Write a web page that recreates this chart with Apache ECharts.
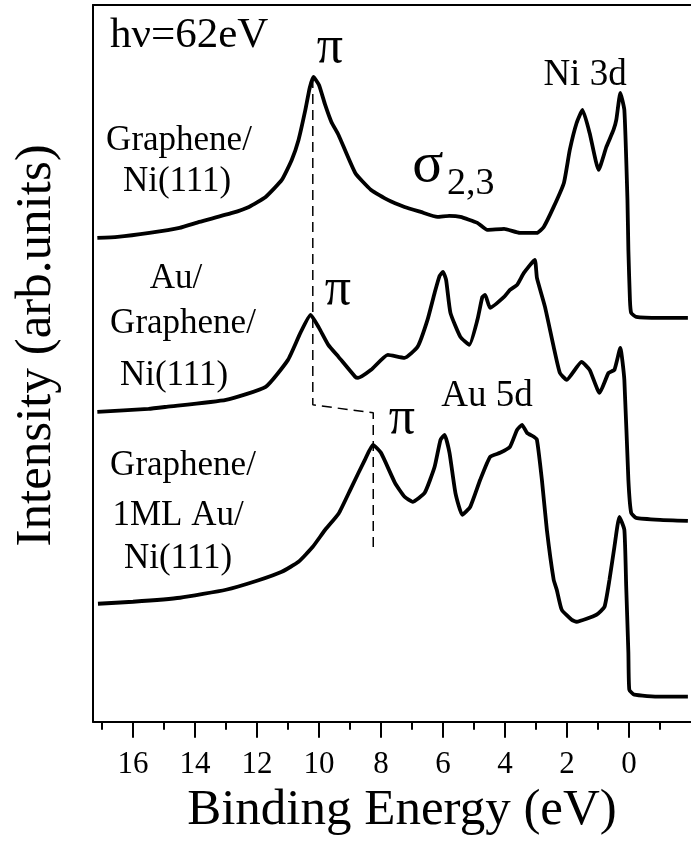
<!DOCTYPE html>
<html>
<head>
<meta charset="utf-8">
<script src="https://cdn.jsdelivr.net/npm/echarts@6/dist/echarts.min.js"></script>
<style>
  html, body { margin: 0; padding: 0; background: #fff; }
  #chart { width: 691px; height: 846px; }
</style>
</head>
<body>
<div id="chart"></div>
<script>
// binding energy (eV) / intensity (arb. units, curves stacked with offsets)
var grNi = [
  [17.15, 484], [16.5, 485], [15.47, 489], [14.5, 494], [13.86, 500], [12.8, 509],
  [12.26, 515], [11.72, 525], [11.2, 542], [10.88, 562], [10.66, 582], [10.44, 612],
  [10.3, 634], [10.18, 645], [10.0, 637], [9.8, 617], [9.6, 600], [9.37, 587],
  [8.83, 549], [8.32, 532], [7.78, 522], [7.24, 515], [6.72, 510], [6.18, 505],
  [5.8, 506], [5.44, 505], [4.89, 499], [4.57, 492], [4.03, 493], [3.52, 489],
  [2.97, 489], [2.75, 495], [2.43, 515], [2.1, 539], [1.91, 572], [1.69, 599],
  [1.5, 612], [1.27, 589], [0.98, 552], [0.73, 575], [0.5, 592], [0.41, 602],
  [0.28, 629], [0.15, 612], [0.05, 522], [0.02, 472], [-0.03, 422], [-0.07, 409],
  [-0.23, 405], [-1.0, 404], [-1.9, 404]
];
var auGrNi = [
  [17.15, 310], [15.5, 313], [14.92, 315], [13.0, 322], [11.72, 335],
  [11.0, 362], [10.6, 389], [10.27, 407], [10.0, 394], [9.7, 377], [9.37, 365],
  [8.83, 345], [8.74, 344], [8.32, 352], [7.78, 367], [7.24, 364], [6.82, 375],
  [6.5, 402], [6.27, 429], [6.11, 446], [6.0, 450], [5.9, 442], [5.76, 409],
  [5.44, 385], [5.15, 377], [4.89, 402], [4.73, 425], [4.64, 427], [4.48, 414],
  [4.03, 425], [3.84, 432], [3.61, 437], [3.39, 449], [3.04, 462], [2.97, 444],
  [2.71, 415], [2.43, 375], [2.23, 349], [2.01, 342], [1.53, 360], [1.27, 352],
  [0.95, 329], [0.66, 349], [0.47, 352], [0.28, 374], [0.15, 342], [0.02, 242],
  [-0.07, 209], [-0.23, 204], [-1.0, 202], [-1.9, 201]
];
var grAuNi = [
  [17.13, 118], [16.0, 120], [14.48, 124], [13.0, 132], [12.0, 141], [11.2, 150],
  [10.66, 160], [10.2, 175], [9.8, 192], [9.37, 208], [8.96, 234], [8.52, 262],
  [8.26, 277], [8.0, 269], [7.55, 239], [7.24, 225], [6.98, 220], [6.59, 229],
  [6.27, 255], [6.08, 282], [5.95, 287], [5.79, 269], [5.6, 229], [5.38, 207],
  [5.12, 215], [4.8, 242], [4.48, 265], [4.16, 269], [3.84, 275], [3.61, 292],
  [3.45, 297], [3.29, 289], [3.07, 285], [2.97, 282], [2.81, 242], [2.65, 192],
  [2.43, 142], [2.33, 132], [2.17, 112], [1.85, 102], [1.69, 100], [1.05, 107],
  [0.79, 115], [0.63, 142], [0.47, 175], [0.31, 205], [0.15, 192], [0.09, 135],
  [0.02, 69], [-0.01, 32], [-0.17, 27], [-1.0, 25], [-1.9, 25]
];
// pi peak shift guide
var piGuide = [[10.2, 644], [10.2, 317], [8.25, 309], [8.25, 169]];
var tickValues = [16, 14, 12, 10, 8, 6, 4, 2, 0];

var serif = "'Liberation Serif', 'Times New Roman', serif";
var myChart = echarts.init(document.getElementById('chart'));

function lbl(text, x, y, size) {
  return {
    type: 'text', x: x, y: y, silent: true,
    style: { text: text, font: size + 'px ' + serif, fill: '#000', align: 'center', verticalAlign: 'middle' }
  };
}

var option = {
  animation: false,
  backgroundColor: '#fff',
  grid: { left: 93, top: 5, right: -4, bottom: 124.3 },
  xAxis: [{
    type: 'value', inverse: true, min: -2, max: 17.29, interval: 2, position: 'bottom',
    axisLine: { onZero: false, lineStyle: { color: '#000', width: 2 } },
    axisTick: { customValues: tickValues, length: 16, lineStyle: { color: '#000', width: 2 } },
    minorTick: { show: true, splitNumber: 2, length: 8, lineStyle: { color: '#000', width: 2 } },
    axisLabel: { customValues: tickValues, margin: 28, color: '#000', fontFamily: serif, fontSize: 31 },
    splitLine: { show: false },
    name: 'Binding Energy (eV)', nameLocation: 'middle', nameGap: 56,
    nameTextStyle: { color: '#000', fontFamily: serif, fontSize: 51, padding: [0, 0, 0, 20] }
  }, {
    type: 'value', inverse: true, min: -2, max: 17.29, position: 'top',
    axisLine: { onZero: false, lineStyle: { color: '#000', width: 2 } },
    axisTick: { show: false }, axisLabel: { show: false }, splitLine: { show: false }
  }],
  yAxis: {
    type: 'value', min: 0, max: 717, position: 'left',
    axisLine: { show: true, onZero: false, lineStyle: { color: '#000', width: 2 } },
    axisTick: { show: false }, axisLabel: { show: false }, splitLine: { show: false },
    name: 'Intensity (arb.units)', nameLocation: 'middle', nameGap: 31,
    nameTextStyle: { color: '#000', fontFamily: serif, fontSize: 51, padding: [0, 0, 0, 36] }
  },
  series: [
    { type: 'line', data: grNi, showSymbol: false, smooth: 0.15, lineStyle: { color: '#000', width: 3.8 } },
    { type: 'line', data: auGrNi, showSymbol: false, smooth: 0.15, lineStyle: { color: '#000', width: 3.8 } },
    { type: 'line', data: grAuNi, showSymbol: false, smooth: 0.15, lineStyle: { color: '#000', width: 3.8 } },
    { type: 'line', data: piGuide, showSymbol: false, lineStyle: { color: '#000', width: 1.5, type: [10, 6] } }
  ],
  graphic: [
    { type: 'text', x: 110, y: 36, silent: true,
      style: { text: 'hν=62eV', font: '43px ' + serif, fill: '#000', align: 'left', verticalAlign: 'middle' } },
    lbl('π', 330, 48, 52),
    lbl('π', 338, 290, 52),
    lbl('π', 402, 419, 52),
    lbl('σ', 428, 166, 58),
    { type: 'text', x: 447, y: 184, silent: true,
      style: { text: '2,3', font: '38px ' + serif, fill: '#000', align: 'left', verticalAlign: 'middle' } },
    lbl('Ni 3d', 585, 75, 37),
    lbl('Au 5d', 487, 396, 37),
    lbl('Graphene/', 179, 141, 35),
    lbl('Ni(111)', 177, 182, 35),
    lbl('Au/', 176, 279, 35),
    lbl('Graphene/', 183, 324, 35),
    lbl('Ni(111)', 174, 376, 35),
    lbl('Graphene/', 183, 466, 35),
    lbl('1ML Au/', 178, 516, 35),
    lbl('Ni(111)', 178, 559, 35)
  ]
};
myChart.setOption(option);
</script>
</body>
</html>
